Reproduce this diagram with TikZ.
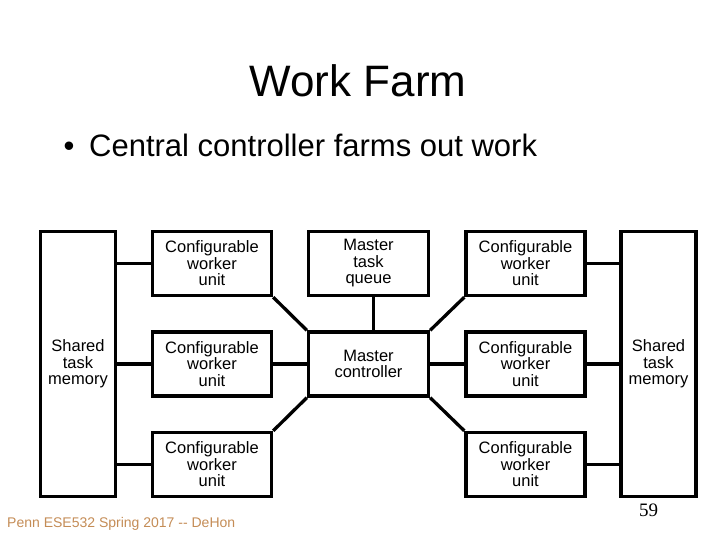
\documentclass[tikz,border=0pt]{standalone}
\usepackage{fontspec}
\setmainfont{Liberation Sans}
\newfontfamily\numfont{Liberation Serif}
\usetikzlibrary{calc}
\definecolor{footbrown}{RGB}{196,140,86}
\tikzset{unit/.style={draw,line width=3.3pt,minimum width=119pt,minimum height=64pt,inner sep=1pt,align=center,font=\fontsize{16.5}{16.5}\selectfont},
mem/.style={unit,minimum width=75pt,minimum height=265pt},
link/.style={line width=3.3pt}}

\begin{document}
\begin{tikzpicture}[x=1pt,y=-1pt]
\useasboundingbox (0,0) rectangle (720,540);
\node[font=\fontsize{44}{50}\selectfont,anchor=base] (title) at (358,97){Work Farm};
\node[font=\fontsize{31}{36}\selectfont,anchor=base] (dot) at (69,157){•};
\node[font=\fontsize{31}{36}\selectfont,anchor=base west,inner sep=0pt] (point) at (89,157){Central controller farms out work};
\node[mem] (memL) at (78,364){Shared\\task\\memory};
\node[mem] (memR) at (658.5,364){Shared\\task\\memory};
\node[unit] (wL1) at (212,263.5){Configurable\\worker\\unit};
\node[unit] (wL2) at (212,364){Configurable\\worker\\unit};
\node[unit] (wL3) at (212,464.5){Configurable\\worker\\unit};
\node[unit] (wR1) at (525.5,263.5){Configurable\\worker\\unit};
\node[unit] (wR2) at (525.5,364){Configurable\\worker\\unit};
\node[unit] (wR3) at (525.5,464.5){Configurable\\worker\\unit};
\node[unit,minimum width=120pt] (queue) at (368.5,263.5){Master\\task\\queue};
\node[unit,minimum width=120pt] (ctrl) at (368.5,364){Master\\controller};
\foreach \w in {wL1,wL2,wL3}{\draw[link] (\w.west) -- (memL.east |- \w.west);}
\foreach \w in {wR1,wR2,wR3}{\draw[link] (\w.east) -- (memR.west |- \w.east);}
\draw[link] ($(queue.south)+(5,0)$) -- ($(ctrl.north)+(5,0)$);
\draw[link] (wL2.east) -- (ctrl.west);\draw[link] (wR2.west) -- (ctrl.east);
\draw[link] (wL1.south east) -- (ctrl.north west);\draw[link] (wL3.north east) -- (ctrl.south west);
\draw[link] (wR1.south west) -- (ctrl.north east);\draw[link] (wR3.north west) -- (ctrl.south east);
\node[font=\fontsize{14}{16}\selectfont,text=footbrown,anchor=base west,inner sep=0pt] (foot) at (7,527){Penn ESE532 Spring 2017 -{}- DeHon};
\node[font=\numfont\fontsize{19}{21}\selectfont,anchor=base] (page) at (648.5,516){59};
\end{tikzpicture}
\end{document}
